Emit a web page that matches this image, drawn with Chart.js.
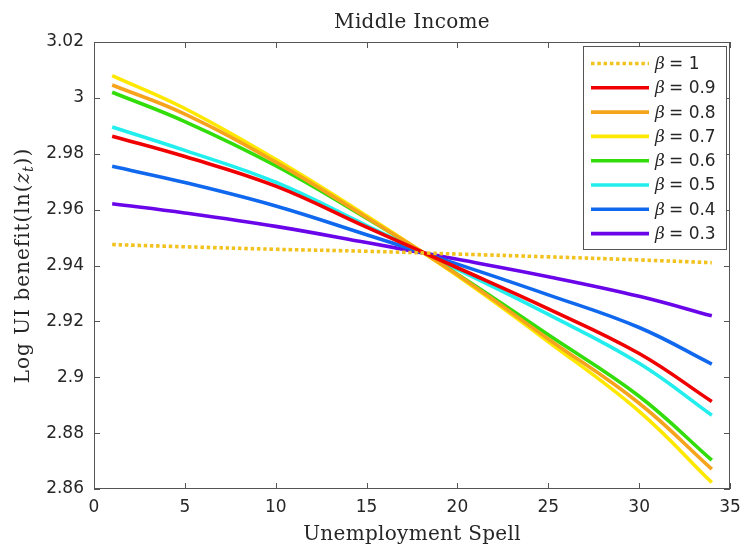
<!DOCTYPE html>
<html lang="en">
<head>
    <meta charset="UTF-8">
    <title>Middle Income</title>
    <script src="https://cdn.jsdelivr.net/npm/chart.js"></script>
    <style>
        html, body { margin: 0; padding: 0; background: #fff; }
        #wrap { width: 746px; height: 548px; position: relative; }
    </style>
</head>
<body>
    <div id="wrap"><canvas id="chart"></canvas></div>

    <script>
        // unemployment spell (x) where values were read
        const spells = [1, 5, 10, 15, 20, 25, 30, 34];

        // log UI benefit for each beta
        const beta10 = [2.9475, 2.9467, 2.9458, 2.9451, 2.9441, 2.9431, 2.9420, 2.9410];
        const beta09 = [2.9863, 2.9790, 2.9684, 2.9537, 2.9392, 2.9245, 2.9085, 2.8913];
        const beta08 = [3.0046, 2.9942, 2.9770, 2.9572, 2.9367, 2.9137, 2.8907, 2.8671];
        const beta07 = [3.0080, 2.9962, 2.9780, 2.9578, 2.9363, 2.9127, 2.8878, 2.8623];
        const beta06 = [3.0020, 2.9915, 2.9757, 2.9569, 2.9369, 2.9152, 2.8932, 2.8703];
        const beta05 = [2.9896, 2.9812, 2.9698, 2.9543, 2.9386, 2.9225, 2.9050, 2.8864];
        const beta04 = [2.9755, 2.9697, 2.9613, 2.9510, 2.9405, 2.9295, 2.9178, 2.9047];
        const beta03 = [2.9621, 2.9588, 2.9540, 2.9482, 2.9422, 2.9360, 2.9290, 2.9220];

        const betaLabels = ["1", "0.9", "0.8", "0.7", "0.6", "0.5", "0.4", "0.3"];
        const seriesValues = [beta10, beta09, beta08, beta07, beta06, beta05, beta04, beta03];

        const xTicks = [0, 5, 10, 15, 20, 25, 30, 35];
        const yTicks = [2.86, 2.88, 2.90, 2.92, 2.94, 2.96, 2.98, 3.00, 3.02];
        const yTickLabels = ["2.86", "2.88", "2.9", "2.92", "2.94", "2.96", "2.98", "3", "3.02"];

        const colors = ["#f2c21f", "#f00000", "#f5a41c", "#ffe800", "#33dd0a", "#22eeee", "#1068ee", "#6a05ea"];
        const axisColor = "#555";
        const textColor = "#262626";
        const serif = "'DejaVu Serif', serif";
        const sans = "'DejaVu Sans', sans-serif";

        const datasets = seriesValues.map((vals, i) => ({
            label: "β = " + betaLabels[i],
            data: spells.map((s, j) => ({ x: s, y: vals[j] })),
            borderColor: colors[i],
            borderWidth: 3.6,
            borderDash: i === 0 ? [3.5, 2.8] : [],
            pointRadius: 0,
            tension: 0.4,
            fill: false
        }));

        const matlabLook = {
            id: "matlabLook",
            beforeDatasetsDraw(chart) {
                const { ctx, chartArea: a, scales: { x, y } } = chart;
                ctx.save();
                ctx.strokeStyle = axisColor;
                ctx.lineWidth = 1;
                ctx.beginPath();
                xTicks.forEach(v => {
                    const px = Math.round(x.getPixelForValue(v)) + 0.5;
                    ctx.moveTo(px, a.bottom); ctx.lineTo(px, a.bottom - 6);
                    ctx.moveTo(px, a.top); ctx.lineTo(px, a.top + 6);
                });
                yTicks.forEach(v => {
                    const py = Math.round(y.getPixelForValue(v)) + 0.5;
                    ctx.moveTo(a.left, py); ctx.lineTo(a.left + 6, py);
                    ctx.moveTo(a.right, py); ctx.lineTo(a.right - 6, py);
                });
                ctx.stroke();
                ctx.strokeRect(Math.round(a.left) + 0.5, Math.round(a.top) + 0.5,
                    Math.round(a.width) - 1, Math.round(a.height) - 1);
                ctx.restore();
            },
            afterDraw(chart) {
                const { ctx, chartArea: a } = chart;
                ctx.save();

                // legend box
                const lx = 583, ly = 46, lw = 143, lh = 203;
                ctx.fillStyle = "#fff";
                ctx.fillRect(lx, ly, lw, lh);
                ctx.strokeStyle = axisColor;
                ctx.lineWidth = 1;
                ctx.strokeRect(lx + 0.5, ly + 0.5, lw, lh);
                chart.data.datasets.forEach((d, i) => {
                    const ry = 63.5 + i * 24.3;
                    ctx.beginPath();
                    ctx.strokeStyle = d.borderColor;
                    ctx.lineWidth = 3.6;
                    ctx.setLineDash(d.borderDash);
                    ctx.moveTo(591, ry); ctx.lineTo(649, ry);
                    ctx.stroke();
                    ctx.setLineDash([]);
                    ctx.fillStyle = textColor;
                    ctx.textBaseline = "middle";
                    ctx.textAlign = "left";
                    ctx.font = "italic 17px " + serif;
                    ctx.fillText("β", 655, ry + 1);
                    ctx.font = "17px " + sans;
                    ctx.fillText("= " + betaLabels[i], 669, ry + 1);
                });

                // title and x axis title
                const cx = (a.left + a.right) / 2;
                ctx.fillStyle = textColor;
                ctx.textAlign = "center";
                ctx.textBaseline = "alphabetic";
                ctx.font = "20px " + serif;
                ctx.letterSpacing = "0.3px";
                ctx.fillText("Middle Income", cx, 28);
                ctx.fillText("Unemployment Spell", cx, 540);

                // y axis title with italic z and subscript t
                ctx.letterSpacing = "1px";
                ctx.translate(28.5, (a.top + a.bottom) / 2);
                ctx.rotate(-Math.PI / 2);
                const parts = [
                    { t: "Log UI benefit(ln(", f: "20px " + serif, dy: 0 },
                    { t: "z", f: "italic 20px " + serif, dy: 0 },
                    { t: "t", f: "italic 14px " + serif, dy: 4 },
                    { t: "))", f: "20px " + serif, dy: 0 }
                ];
                let total = 0;
                parts.forEach(p => { ctx.font = p.f; total += ctx.measureText(p.t).width; });
                let px = -total / 2;
                ctx.textAlign = "left";
                parts.forEach(p => {
                    ctx.font = p.f;
                    ctx.fillText(p.t, px, p.dy);
                    px += ctx.measureText(p.t).width;
                });
                ctx.restore();
            }
        };

        new Chart(document.getElementById("chart"), {
            type: "line",
            data: { datasets: datasets },
            options: {
                responsive: true,
                maintainAspectRatio: false,
                animation: false,
                layout: { padding: { top: 42, right: 16, left: 0, bottom: 0 } },
                plugins: { legend: { display: false }, tooltip: { enabled: false } },
                scales: {
                    x: {
                        type: "linear",
                        min: 0, max: 35,
                        afterBuildTicks: s => { s.ticks = xTicks.map(v => ({ value: v })); },
                        afterFit: s => { s.height = 59; s.paddingLeft = 0; s.paddingRight = 0; },
                        grid: { display: false, drawTicks: false },
                        border: { display: false },
                        ticks: { padding: 8, color: textColor, font: { family: sans, size: 17 }, maxRotation: 0 }
                    },
                    y: {
                        type: "linear",
                        min: 2.86, max: 3.02,
                        afterBuildTicks: s => { s.ticks = yTicks.map(v => ({ value: v })); },
                        afterFit: s => { s.width = 94; s.paddingTop = 0; s.paddingBottom = 0; },
                        grid: { display: false, drawTicks: false },
                        border: { display: false },
                        ticks: {
                            padding: 10, color: textColor, font: { family: sans, size: 17 },
                            callback: (v, i) => yTickLabels[i]
                        }
                    }
                }
            },
            plugins: [matlabLook]
        });
    </script>
</body>
</html>
